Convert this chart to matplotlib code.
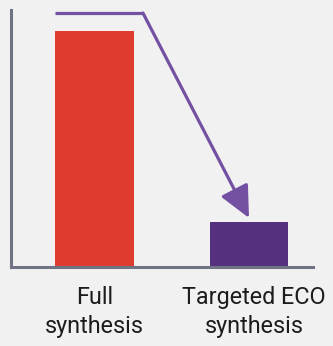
import matplotlib.pyplot as plt
from matplotlib.patches import FancyArrowPatch
from matplotlib.transforms import ScaledTranslation

categories = ["Full\nsynthesis", "Targeted ECO\nsynthesis"]
effort = [100, 19]
colors = ["#e03b2f", "#55307f"]

plt.rcParams["font.family"] = ["Roboto", "DejaVu Sans"]

fig = plt.figure(figsize=(3.33, 3.46), dpi=100, facecolor="#f1f1f1")
ax = fig.add_axes([11 / 333, 1 - 267 / 346, 302 / 333, 257 / 346])
ax.set_facecolor("#f1f1f1")

x = [0, 1]
width = 0.51
ax.bar(x, effort, width=width, color=colors, zorder=2)

ax.set_xlim(-0.54, 1.414)
ax.set_ylim(0, 109)

# bent arrow from above the tall bar down onto the short one
top = 107.7
start = (x[0] - width / 2, top)
corner = (0.314, top)
tip = (x[1], effort[1] + 1.8)
arrow_col = "#7450a3"
ax.plot([start[0], corner[0]], [start[1], corner[1]], color=arrow_col, lw=2.3,
        solid_capstyle="butt", zorder=3)
ax.add_patch(FancyArrowPatch(corner, tip, arrowstyle="-|>,head_length=1.3,head_width=0.62",
                             mutation_scale=15, color=arrow_col, lw=2.3,
                             shrinkA=0, shrinkB=0, zorder=3))

for side in ["top", "right"]:
    ax.spines[side].set_visible(False)
for side in ["left", "bottom"]:
    ax.spines[side].set_color("#6f7384")
    ax.spines[side].set_linewidth(2.2)

ax.set_xticks([])
ax.set_yticks([])

# category labels under the bars; the second one sits a little right of its bar
shifts = [0, 5]
for xi, label, dx in zip(x, categories, shifts):
    ax.text(xi, 0, label, transform=ax.get_xaxis_transform()
            + ScaledTranslation(dx / 100, -19 / 100, fig.dpi_scale_trans),
            ha="center", va="top", fontsize=16.8, color="#1c1c1c",
            linespacing=1.35)

fig.savefig("out.png", dpi=100, facecolor=fig.get_facecolor())
